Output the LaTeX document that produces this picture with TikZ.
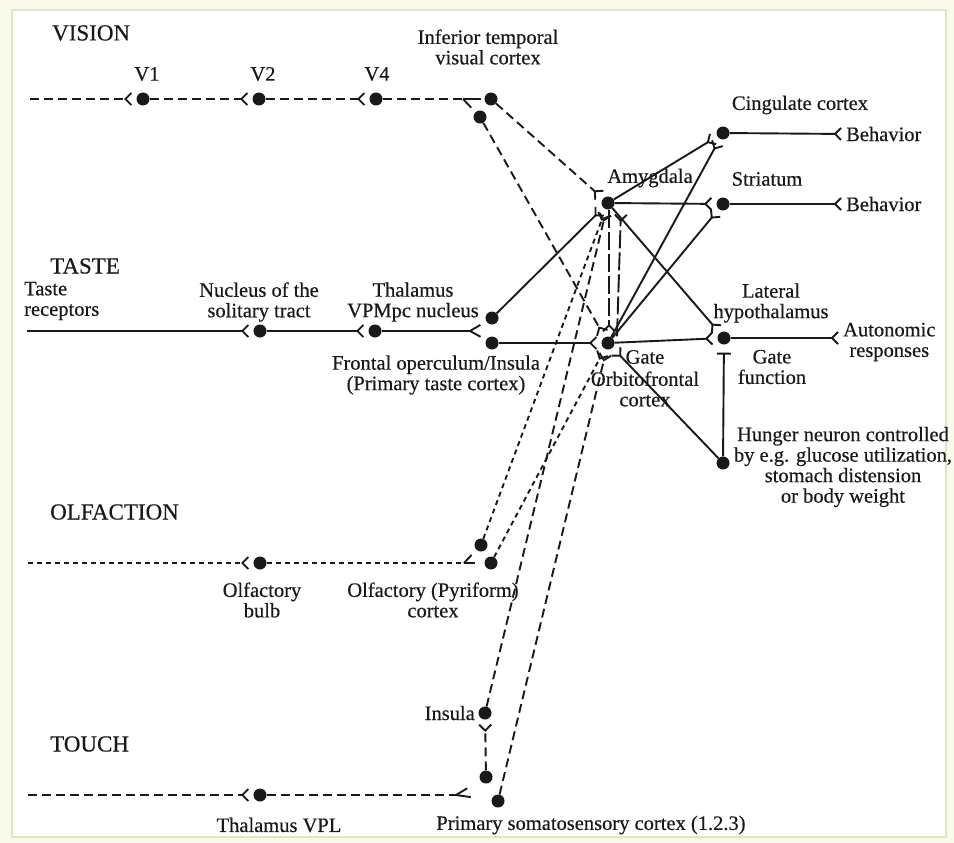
\documentclass[tikz,border=0pt]{standalone}
\usepackage{fontspec}
\setmainfont{Liberation Serif}[FakeBold=0.4]
\usetikzlibrary{arrows.meta,calc}
\definecolor{bgc}{RGB}{249,250,236}
\definecolor{frm}{RGB}{218,232,200}
\definecolor{ink}{RGB}{25,25,25}
\newcommand{\labfont}{\fontsize{20.5}{20.5}\selectfont}
\newcommand{\hdrfont}{\fontsize{23}{24}\selectfont}
\tikzset{
 nd/.style={circle, fill=ink, draw=none, inner sep=0pt, minimum size=13pt},
 lab/.style={font=\labfont, align=center, inner sep=0pt, text=ink},
 hdr/.style={font=\hdrfont, inner sep=0pt, anchor=west, text=ink},
 lnk/.style={line width=1.9pt, draw=ink},
 fork/.style={-{Straight Barb[reversed,length=6pt,width=12pt]}, shorten >=4pt},
 vdash/.style={dash pattern=on 9pt off 5pt},
 sdash/.style={dash pattern=on 5pt off 4pt},
 ldash/.style={dash pattern=on 18pt off 4pt},
}
\begin{document}
\begin{tikzpicture}[x=1pt,y=-1pt]
\useasboundingbox (0,0) rectangle (954,843);
\fill[bgc] (0,0) rectangle (954,843);
\fill[white] (12,10) rectangle (946,837);
\draw[frm, line width=1.5pt] (12,10) rectangle (946,837);

% headings
\node[hdr] (hVision) at (52,33) {VISION};
\node[hdr] (hTaste) at (50,266) {TASTE};
\node[hdr] (hOlf) at (50,512) {OLFACTION};
\node[hdr] (hTouch) at (50,744) {TOUCH};

% dots
\node[nd] (V1) at (143,99) {};
\node[nd] (V2) at (259,99) {};
\node[nd] (V4) at (376,99) {};
\node[nd] (IT1) at (491,99) {};
\node[nd] (IT2) at (480,117) {};
\node[nd] (Amyg) at (608,203) {};
\node[nd] (Cing) at (723,133) {};
\node[nd] (Stri) at (723,204) {};
\node[nd] (OFC) at (608,343) {};
\node[nd] (LH) at (724,338) {};
\node[nd] (Hung) at (723,463) {};
\node[nd] (NST) at (260,331) {};
\node[nd] (VPM) at (375,331) {};
\node[nd] (FO1) at (492,318) {};
\node[nd] (FO2) at (492,343) {};
\node[nd] (OB) at (260,563) {};
\node[nd] (Olf1) at (481,545) {};
\node[nd] (Olf2) at (491,563) {};
\node[nd] (Ins) at (485,713) {};
\node[nd] (T1) at (486,777) {};
\node[nd] (T2) at (498,801) {};
\node[nd] (VPL) at (260,795) {};

% free ends and fork points
\coordinate (visStart) at (30,99);
\coordinate (tasteStart) at (27,331);
\coordinate (olfStart) at (28,563);
\coordinate (touchStart) at (28,795);
\coordinate (itFork) at (463,99);
\coordinate (tFork) at (470,331);
\coordinate (oFork) at (464,563);
\coordinate (toFork) at (456,795);

% labels
\node[lab] (lV1) at (147,74) {V1};
\node[lab] (lV2) at (263,74) {V2};
\node[lab] (lV4) at (377,74) {V4};
\node[lab] (lIT) at (488,47) {Inferior temporal\\visual cortex};
\node[lab] (lCing) at (800,105) {Cingulate cortex};
\node[lab, anchor=west] (Beh1) at (846,134) {Behavior};
\node[lab] (lStri) at (767,179) {Striatum};
\node[lab, anchor=west] (Beh2) at (846,204) {Behavior};
\node[lab] (lAmyg) at (650,178) {Amygdala};
\node[lab, align=left, anchor=west] (lTR) at (24,301) {Taste\\receptors};
\node[lab] (lNST) at (259,302) {Nucleus of the\\solitary tract};
\node[lab] (lVPM) at (413,302) {Thalamus\\VPMpc nucleus};
\node[lab] (lLH) at (771,303) {Lateral\\hypothalamus};
\node[lab, anchor=west] (Auto) at (843,342) {Autonomic\\responses};
\node[lab] (lFO) at (436,375) {Frontal operculum/Insula\\(Primary taste cortex)};
\node[lab] (lGate) at (645,357) {Gate};
\node[lab] (lOFC) at (645,389) {Orbitofrontal\\cortex};
\node[lab] (lGF) at (772,367) {Gate\\function};
\node[lab] (lHung) at (843,467) {Hunger neuron controlled\\by e.g. glucose utilization,\\stomach distension\\or body weight};
\node[lab] (lOB) at (262,600) {Olfactory\\bulb};
\node[lab] (lOlf) at (433,600) {Olfactory (Pyriform)\\cortex};
\node[lab, anchor=east] (lIns) at (475,713) {Insula};
\node[lab] (lVPL) at (279,825) {Thalamus VPL};
\node[lab] (lS1) at (591,825) {Primary somatosensory cortex (1.2.3)};

% vision pathway
\draw[lnk,vdash,fork] (visStart) -- (V1);
\draw[lnk,vdash,fork] (V1) -- (V2);
\draw[lnk,vdash,fork] (V2) -- (V4);
\draw[lnk,vdash] (V4) -- (itFork);
\draw[lnk] (itFork) -- ($(itFork)!18pt!(IT1)$);
\draw[lnk] (itFork) -- ($(itFork)!12pt!(IT2)$);
\draw[lnk,vdash,fork] (IT1) -- (Amyg);
\draw[lnk,vdash,fork] (IT2) -- (OFC);

% taste pathway
\draw[lnk,fork] (tasteStart) -- (NST);
\draw[lnk,fork] (NST) -- (VPM);
\draw[lnk] (VPM) -- (tFork);
\draw[lnk] (tFork) -- ($(tFork)!12pt!(FO1)$);
\draw[lnk] (tFork) -- ($(tFork)!12pt!(FO2)$);
\draw[lnk,fork] (FO1) -- (Amyg);
\draw[lnk,fork] (FO2) -- (OFC);

% outputs
\draw[lnk,fork] (Amyg) -- (Cing);
\draw[lnk,fork] (Amyg) -- (Stri);
\draw[lnk,fork] (Amyg) -- (LH);
\draw[lnk,fork] (OFC) -- (Cing);
\draw[lnk,fork] (OFC) -- (Stri);
\draw[lnk,fork] (OFC) -- (LH);
\draw[lnk,fork] (Cing) -- (Beh1.west);
\draw[lnk,fork] (Stri) -- (Beh2.west);
\draw[lnk,fork] (LH) -- ([yshift=4pt]Auto.west);

% amygdala <-> orbitofrontal
\draw[lnk,ldash,fork] ([xshift=1pt]Amyg.south) -- ([xshift=1pt]OFC.north);
\draw[lnk,ldash,fork] ([xshift=9pt]OFC.north) -- ([xshift=13pt]Amyg.south);

% hunger
\draw[lnk,fork] (Hung) -- (OFC);
\draw[lnk,-{Bar[width=14pt]},shorten >=8pt] (Hung) -- (LH);

% olfaction
\draw[lnk,sdash,fork] (olfStart) -- (OB);
\draw[lnk,sdash] (OB) -- (oFork);
\draw[lnk] (oFork) -- ($(oFork)!11pt!(Olf1)$);
\draw[lnk] (oFork) -- ($(oFork)!11pt!(Olf2)$);
\draw[lnk,sdash,fork] (Olf1) -- (Amyg);
\draw[lnk,sdash,fork] (Olf2) -- (OFC);

% touch
\draw[lnk,vdash,fork] (touchStart) -- (VPL);
\draw[lnk,vdash] (VPL) -- (toFork);
\draw[lnk] (toFork) -- ($(toFork)!13pt!(T1)$);
\draw[lnk] (toFork) -- ($(toFork)!15pt!(T2)$);
\draw[lnk,vdash,fork] (T1) -- (Ins);
\draw[lnk,vdash,fork] (Ins) -- (Amyg);
\draw[lnk,vdash,fork] (T2) -- (OFC);
\end{tikzpicture}
\end{document}
